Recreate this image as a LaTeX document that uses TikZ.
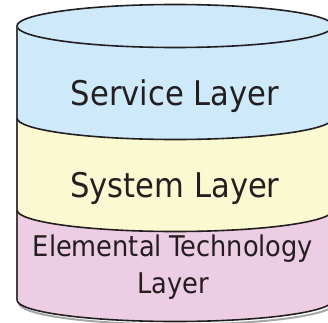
\documentclass[tikz,border=0pt]{standalone}
\usepackage{fontspec}
\setmainfont{DejaVu Sans Condensed}
\usepackage{tikz}
\usetikzlibrary{positioning}
\definecolor{servblue}{RGB}{205, 233, 250}
\definecolor{sysyellow}{RGB}{251, 249, 210}
\definecolor{elempink}{RGB}{237, 205, 227}
\definecolor{inkgray}{RGB}{35, 31, 32}

\begin{document}
\begin{tikzpicture}[x=1pt, y=1pt,
    layerline/.style={draw=inkgray, line width=1.6pt},
    layertext/.style={text=inkgray, inner sep=0pt, align=center}]
    \useasboundingbox (0,0) rectangle (328,322);
    \clip (0,0) rectangle (328,322);
    % layer fills
    \fill[servblue] (17,296) -- (17,204) arc[start angle=180, end angle=360, x radius=158, y radius=21.5] -- (333,296) arc[start angle=0, end angle=180, x radius=158, y radius=21.5] -- cycle;
    \fill[servblue] (175,296) ellipse [x radius=158, y radius=21.5];
    \fill[sysyellow] (17,204) -- (17,112) arc[start angle=180, end angle=360, x radius=158, y radius=21.5] -- (333,204) arc[start angle=360, end angle=180, x radius=158, y radius=21.5] -- cycle;
    \fill[elempink] (17,112) -- (17,22) arc[start angle=180, end angle=360, x radius=158, y radius=21.5] -- (333,112) arc[start angle=360, end angle=180, x radius=158, y radius=21.5] -- cycle;

    % shadow under the bottom
    \draw[gray!70, line width=2pt] (19,19) arc[start angle=180, end angle=360, x radius=158, y radius=21.5];

    % outlines
    \draw[layerline] (175,296) ellipse [x radius=158, y radius=21.5];
    \draw[layerline, draw=inkgray!85, line width=2pt] (17,296) -- (17,22);
    \draw[layerline] (17,204) arc[start angle=180, end angle=360, x radius=158, y radius=21.5];
    \draw[layerline] (17,112) arc[start angle=180, end angle=360, x radius=158, y radius=21.5];
    \draw[layerline] (17,22) arc[start angle=180, end angle=360, x radius=158, y radius=21.5];

    % labels
    \node (service) [layertext, anchor=base, font=\fontsize{34}{40}\selectfont] at (175,217) {Service Layer};
    \node (system) [layertext, anchor=base, font=\fontsize{34}{40}\selectfont] at (175,125) {System Layer};
    \node (elemental) [layertext, font=\fontsize{28.5}{37}\selectfont] at (173,55) {Elemental Technology\\Layer};
\end{tikzpicture}
\end{document}
